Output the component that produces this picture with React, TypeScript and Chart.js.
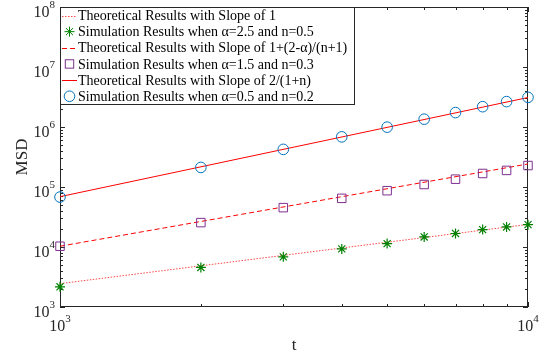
import React, { useEffect, useRef } from "react";
import { Chart, registerables } from "chart.js";

Chart.register(...registerables);

// ---- data ----
const tValues = [1000, 2000, 3000, 4000, 5000, 6000, 7000, 8000, 9000, 10000];
const starValues = [2170, 4560, 6850, 9300, 11400, 14700, 16800, 19500, 21600, 23600];
const squareValues = [10300, 25500, 45300, 64700, 86800, 110000, 135000, 168000, 189000, 228000];
const circleValues = [68000, 212000, 424000, 685000, 994000, 1350000, 1740000, 2180000, 2650000, 3120000];
const lineT = [1000, 10000];
const slopeOneLine = [2450, 23800];
const slopeDashedLine = [10300, 242000];
const slopeSolidLine = [69000, 3100000];
const yTickExponents = [3, 4, 5, 6, 7, 8];
const xTickExponents = [3, 4];
const legendLabels = [
  "Theoretical Results with Slope of 1",
  "Simulation Results when α=2.5 and n=0.5",
  "Theoretical Results with Slope of 1+(2-α)/(n+1)",
  "Simulation Results when α=1.5 and n=0.3",
  "Theoretical Results with Slope of 2/(1+n)",
  "Simulation Results when α=0.5 and n=0.2",
];
const xTitle = "t";
const yTitle = "MSD";

const RED = "#FF0000";
const GREEN = "#008000";
const PURPLE = "#7E2F8E";
const BLUE = "#0072BD";
const AXIS = "#262626";
const FONT = "'Liberation Serif', 'DejaVu Serif', serif";

function pts(xs: number[], ys: number[]) {
  return xs.map((x, i) => ({ x, y: ys[i] }));
}

function drawMarker(ctx: CanvasRenderingContext2D, kind: string, x: number, y: number) {
  ctx.save();
  ctx.lineWidth = 1;
  if (kind === "star") {
    ctx.strokeStyle = GREEN;
    const r = 5;
    ctx.beginPath();
    ctx.moveTo(x - r, y); ctx.lineTo(x + r, y);
    ctx.moveTo(x, y - r); ctx.lineTo(x, y + r);
    const d = r * Math.SQRT1_2;
    ctx.moveTo(x - d, y - d); ctx.lineTo(x + d, y + d);
    ctx.moveTo(x - d, y + d); ctx.lineTo(x + d, y - d);
    ctx.stroke();
  } else if (kind === "rect") {
    ctx.strokeStyle = PURPLE;
    ctx.strokeRect(x - 4.2, y - 4.2, 8.4, 8.4);
  } else if (kind === "circle") {
    ctx.strokeStyle = BLUE;
    ctx.beginPath();
    ctx.arc(x, y, 5.3, 0, Math.PI * 2);
    ctx.stroke();
  }
  ctx.restore();
}

const axesPlugin = {
  id: "matlabAxes",
  beforeDatasetsDraw(chart: any) {
    const { ctx, chartArea } = chart;
    const { left, right, top, bottom } = chartArea;
    const xs = chart.scales.x;
    const ys = chart.scales.y;
    ctx.save();
    ctx.strokeStyle = AXIS;
    ctx.lineWidth = 1;
    ctx.beginPath();
    // y ticks (both sides, inward)
    for (let k = yTickExponents[0]; k <= yTickExponents[yTickExponents.length - 1]; k++) {
      for (let m = 1; m <= 9; m++) {
        const v = m * Math.pow(10, k);
        if (v > Math.pow(10, yTickExponents[yTickExponents.length - 1])) break;
        const py = Math.round(ys.getPixelForValue(v)) + 0.5;
        const len = m === 1 ? 5 : 3;
        ctx.moveTo(left, py); ctx.lineTo(left + len, py);
        ctx.moveTo(right, py); ctx.lineTo(right - len, py);
      }
    }
    // x ticks (top & bottom, inward)
    for (let k = xTickExponents[0]; k <= xTickExponents[xTickExponents.length - 1]; k++) {
      for (let m = 1; m <= 9; m++) {
        const v = m * Math.pow(10, k);
        if (v > Math.pow(10, xTickExponents[xTickExponents.length - 1])) break;
        const px = Math.round(xs.getPixelForValue(v)) + 0.5;
        const len = m === 1 ? 5 : 3;
        ctx.moveTo(px, bottom); ctx.lineTo(px, bottom - len);
        ctx.moveTo(px, top); ctx.lineTo(px, top + len);
      }
    }
    ctx.stroke();
    ctx.strokeRect(left + 0.5, top + 0.5, right - left - 1, bottom - top - 1);

    // tick labels
    ctx.fillStyle = AXIS;
    ctx.textBaseline = "alphabetic";
    const baseFont = "16px " + FONT;
    const expFont = "11px " + FONT;
    yTickExponents.forEach((e) => {
      const py = ys.getPixelForValue(Math.pow(10, e));
      ctx.font = expFont;
      const we = ctx.measureText(String(e)).width;
      ctx.textAlign = "left";
      ctx.fillText(String(e), 55 - we, py + 0.5);
      ctx.font = baseFont;
      ctx.textAlign = "right";
      ctx.fillText("10", 55 - we, py + 9.5);
    });
    xTickExponents.forEach((e) => {
      const px = xs.getPixelForValue(Math.pow(10, e));
      ctx.font = baseFont;
      const wb = ctx.measureText("10").width;
      ctx.font = expFont;
      const we = ctx.measureText(String(e)).width;
      const start = px - (wb + we) / 2;
      ctx.font = baseFont;
      ctx.textAlign = "left";
      ctx.fillText("10", start, bottom + 24);
      ctx.font = expFont;
      ctx.fillText(String(e), start + wb, bottom + 15);
    });

    // axis titles
    ctx.font = "17px " + FONT;
    ctx.textAlign = "center";
    ctx.textBaseline = "middle";
    ctx.fillText(xTitle, (left + right) / 2, 346);
    ctx.save();
    ctx.translate(23, (top + bottom) / 2);
    ctx.rotate(-Math.PI / 2);
    ctx.fillText(yTitle, 0, 0);
    ctx.restore();
    ctx.restore();
  },
  afterDraw(chart: any) {
    const { ctx, chartArea } = chart;
    const bx = chartArea.left;
    const by = chartArea.top;
    const bw = 295;
    const bh = 98;
    ctx.save();
    ctx.fillStyle = "#FFFFFF";
    ctx.fillRect(bx, by, bw, bh);
    ctx.strokeStyle = AXIS;
    ctx.lineWidth = 1;
    ctx.strokeRect(bx + 0.5, by + 0.5, bw - 1, bh - 1);
    ctx.font = "14px " + FONT;
    ctx.textBaseline = "middle";
    ctx.textAlign = "left";
    chart.data.datasets.forEach((ds: any, i: number) => {
      const cy = by + 8.5 + i * 16.15;
      if (ds.showLine) {
        ctx.save();
        ctx.strokeStyle = ds.borderColor;
        ctx.lineWidth = ds.borderWidth;
        ctx.setLineDash(ds.borderDash || []);
        ctx.beginPath();
        ctx.moveTo(bx + 2, Math.round(cy) + 0.5);
        ctx.lineTo(bx + 17, Math.round(cy) + 0.5);
        ctx.stroke();
        ctx.restore();
      } else {
        drawMarker(ctx, ds.pointStyle, bx + 9.5, cy);
      }
      ctx.fillStyle = "#000000";
      ctx.fillText(ds.label, bx + 18, cy + 1);
    });
    ctx.restore();
  },
};

export default function App() {
  const canvasRef = useRef<HTMLCanvasElement | null>(null);
  useEffect(() => {
    if (!canvasRef.current) return;
    const chart = new Chart(canvasRef.current, {
      type: "scatter",
      data: {
        datasets: [
          {
            label: legendLabels[0],
            data: pts(lineT, slopeOneLine),
            showLine: true,
            borderColor: "rgba(255,40,40,0.85)",
            borderWidth: 1,
            borderDash: [1.5, 1.5],
            pointRadius: 0,
            clip: false,
            order: 6,
          },
          {
            label: legendLabels[1],
            data: pts(tValues, starValues),
            showLine: false,
            pointStyle: "star",
            pointRadius: 5,
            borderColor: GREEN,
            backgroundColor: GREEN,
            borderWidth: 1.2,
            clip: false,
            order: 5,
          },
          {
            label: legendLabels[2],
            data: pts(lineT, slopeDashedLine),
            showLine: true,
            borderColor: RED,
            borderWidth: 1,
            borderDash: [5, 3],
            pointRadius: 0,
            clip: false,
            order: 4,
          },
          {
            label: legendLabels[3],
            data: pts(tValues, squareValues),
            showLine: false,
            pointStyle: "rect",
            pointRadius: 6,
            borderColor: PURPLE,
            backgroundColor: "rgba(0,0,0,0)",
            borderWidth: 1,
            clip: false,
            order: 3,
          },
          {
            label: legendLabels[4],
            data: pts(lineT, slopeSolidLine),
            showLine: true,
            borderColor: RED,
            borderWidth: 1,
            pointRadius: 0,
            clip: false,
            order: 2,
          },
          {
            label: legendLabels[5],
            data: pts(tValues, circleValues),
            showLine: false,
            pointStyle: "circle",
            pointRadius: 5.3,
            borderColor: BLUE,
            backgroundColor: "rgba(0,0,0,0)",
            borderWidth: 1,
            clip: false,
            order: 1,
          },
        ] as any,
      },
      options: {
        animation: false,
        responsive: false,
        devicePixelRatio: 1,
        layout: { padding: { left: 60, right: 21, top: 6, bottom: 51 } },
        plugins: { legend: { display: false }, tooltip: { enabled: false } },
        elements: { point: { hoverRadius: 5 } },
        scales: {
          x: {
            type: "logarithmic",
            min: Math.pow(10, xTickExponents[0]),
            max: Math.pow(10, xTickExponents[xTickExponents.length - 1]),
            display: false,
          },
          y: {
            type: "logarithmic",
            min: Math.pow(10, yTickExponents[0]),
            max: Math.pow(10, yTickExponents[yTickExponents.length - 1]),
            display: false,
          },
        },
      } as any,
      plugins: [axesPlugin],
    });
    return () => chart.destroy();
  }, []);
  return (
    <div style={{ position: "absolute", left: 0, top: 0, width: 549, height: 358, background: "#fff" }}>
      <canvas ref={canvasRef} width={549} height={358} style={{ display: "block" }} />
    </div>
  );
}
